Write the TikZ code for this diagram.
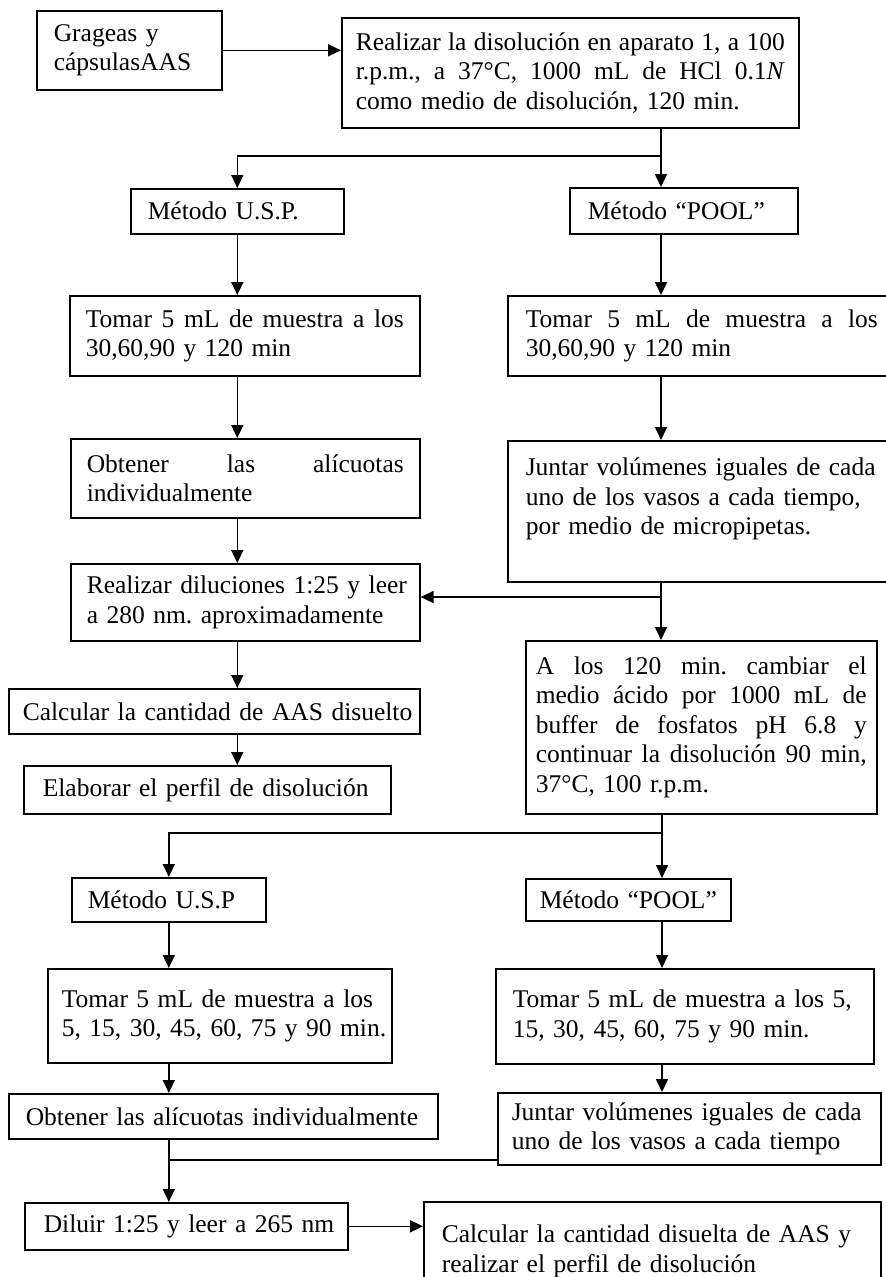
\documentclass[tikz,border=0pt]{standalone}
\usepackage{fontspec}
\setmainfont{Liberation Serif}
\usetikzlibrary{arrows.meta}
% a justified line spread to the current box width, followed by a line break
\newcommand\jl[1]{\leavevmode\hbox to \tw pt{\frenchspacing\spaceskip=0.25em plus 1fil\relax #1}\\}
% box from (x1,y1) to (x2,y2), left padding, contents
\newcommand\bx[7]{%
  \pgfmathsetmacro\bw{#4-#2}%
  \pgfmathsetmacro\bh{#5-#3}%
  \pgfmathsetmacro\tw{#4-#2-2*#6}%
  \node[box, minimum width=\bw pt, minimum height=\bh pt, text width=\tw pt] (#1) at (#2,#3) {#7};}
\tikzset{
  box/.style={draw, line width=1.6pt, inner sep=0pt, anchor=north west,
    font=\fontsize{25.5}{29.5}\selectfont\frenchspacing},
  ln/.style={line width=1.6pt},
  arr/.style={line width=1.6pt, -{Triangle[length=13pt,width=12pt]}},
}
\begin{document}
\begin{tikzpicture}[x=1pt,y=-1pt]
\useasboundingbox (0,0) rectangle (886,1277);
\fill[white] (0,0) rectangle (886,1277);
\clip (0,0) rectangle (886,1277);

% first stage: acid medium
\bx{gra}{36}{10}{221}{89}{17}{\mbox{Grageas y}\\\mbox{cápsulasAAS}}
\bx{dis}{341}{17}{798}{127}{14}{\jl{Realizar la disolución en aparato 1, a 100}\jl{r.p.m., a 37°C, 1000 mL de HCl 0.1\textit{N}}\mbox{como medio de disolución, 120 min.}}
\bx{usp}{130}{188}{343}{233}{17}{\mbox{Método U.S.P.}}
\bx{pool}{569}{187}{797}{233}{18}{\mbox{Método “POOL”}}
\bx{tomU}{69}{295}{419}{375}{16}{\jl{Tomar 5 mL de muestra a los}\mbox{30,60,90 y 120 min}}
\bx{tomP}{507}{295}{895}{375}{18}{\jl{Tomar 5 mL de muestra a los}\mbox{30,60,90 y 120 min}}
\bx{obtU}{70}{438}{419}{517}{16}{\jl{Obtener las alícuotas}\mbox{individualmente}}
\bx{junP}{507}{440}{895}{581}{18}{\mbox{Juntar volúmenes iguales de cada}\\\mbox{uno de los vasos a cada tiempo,}\\\mbox{por medio de micropipetas.}\\\mbox{}}
\bx{dil}{70}{563}{419}{640}{16}{\mbox{Realizar diluciones 1:25 y leer}\\\mbox{a 280 nm. aproximadamente}}
\bx{cam}{525}{640}{876}{813}{10}{\jl{A los 120 min. cambiar el}\jl{medio ácido por 1000 mL de}\jl{buffer de fosfatos pH 6.8 y}\jl{continuar la disolución 90 min,}\mbox{37°C, 100 r.p.m.}}
\bx{calU}{8}{688}{419}{733}{14}{\mbox{Calcular la cantidad de AAS disuelto}}
\bx{ela}{23}{765}{390}{813}{19}{\mbox{Elaborar el perfil de disolución}}

% second stage: phosphate buffer
\bx{usp2}{71}{877}{265}{921}{16}{\mbox{Método U.S.P}}
\bx{pool2}{525}{878}{730}{920}{14}{\mbox{Método “POOL”}}
\bx{tomU2}{47}{968}{391}{1062}{14}{\mbox{Tomar 5 mL de muestra a los}\\\mbox{5, 15, 30, 45, 60, 75 y 90 min.}\par\vspace{12pt}}
\bx{tomP2}{495}{968}{873}{1063}{17}{\mbox{Tomar 5 mL de muestra a los 5,}\\\mbox{15, 30, 45, 60, 75 y 90 min.}\par\vspace{12pt}}
\bx{obtU2}{8}{1093}{437}{1138}{17}{\mbox{Obtener las alícuotas individualmente}}
\bx{junP2}{497}{1092}{880}{1164}{14}{\mbox{Juntar volúmenes iguales de cada}\\\mbox{uno de los vasos a cada tiempo}}
\bx{dilu}{24}{1202}{347}{1249}{19}{\mbox{Diluir 1:25 y leer a 265 nm}}
\bx{calP}{423}{1201}{880}{1300}{18}{\mbox{Calcular la cantidad disuelta de AAS y}\\\mbox{realizar el perfil de disolución}\par\vspace{12pt}}

% connectors
\draw[arr] (gra.east) -- (gra.east -| dis.west);
\coordinate (j1) at (661,156);
\draw[ln] (dis.south -| j1) -- (j1);
\draw[arr] (j1) -| (usp.north);
\draw[arr] (j1) -- (pool.north -| j1);
\draw[arr] (usp.south) -- (tomU.north -| usp.south);
\draw[arr] (pool.south -| j1) -- (tomP.north -| j1);
\draw[arr] (tomU.south -| usp.south) -- (obtU.north -| usp.south);
\draw[arr] (tomP.south -| j1) -- (junP.north -| j1);
\draw[arr] (obtU.south -| usp.south) -- (dil.north -| usp.south);
\coordinate (j2) at (661,597);
\draw[ln] (junP.south -| j2) -- (j2);
\draw[arr] (j2) -- (dil.east |- j2);
\draw[arr] (j2) -- (cam.north -| j2);
\draw[arr] (dil.south -| usp.south) -- (calU.north -| usp.south);
\draw[arr] (calU.south -| usp.south) -- (ela.north -| usp.south);
\coordinate (j3) at (662,833);
\draw[ln] (cam.south -| j3) -- (j3);
\draw[arr] (j3) -| (usp2.north);
\draw[arr] (j3) -- (pool2.north -| j3);
\draw[arr] (usp2.south) -- (tomU2.north -| usp2.south);
\draw[arr] (pool2.south -| j3) -- (tomP2.north -| j3);
\draw[arr] (tomU2.south -| usp2.south) -- (obtU2.north -| usp2.south);
\draw[arr] (tomP2.south -| j3) -- (junP2.north -| j3);
\coordinate (j4) at (usp2.south |- 0,1160);
\draw[ln] (obtU2.south -| j4) -- (j4) -- (junP2.west |- j4);
\draw[arr] (j4) -- (dilu.north -| j4);
\draw[arr] (dilu.east) -- (calP.west |- dilu.east);
\end{tikzpicture}
\end{document}
